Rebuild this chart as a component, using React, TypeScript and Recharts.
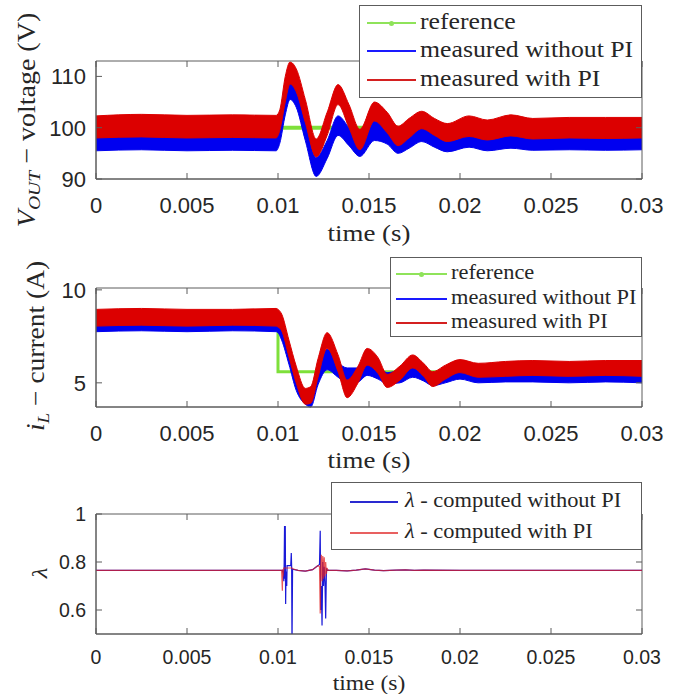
import React from 'react';
import { ComposedChart, Area, Line, XAxis, YAxis, ReferenceArea } from 'recharts';

const RED = '#dc0000';
const BLUE = '#0000f0';
const GREEN = '#7ee03a';
const AXIS = '#5c5c5c';
const INK = '#262626';
const SERIF = '"Liberation Serif", "Times New Roman", serif';
const SANS = '"Liberation Sans", Arial, sans-serif';
// the original uses Computer Modern, which is wider than Times
const WIDEN = 'scaleX(1.12)';

const xTicks = [0, 0.005, 0.01, 0.015, 0.02, 0.025, 0.03];
const xTickLabels = ['0', '0.005', '0.01', '0.015', '0.02', '0.025', '0.03'];

// output voltage: edges of the noisy bands
const vTime = [0, 0.0025, 0.005, 0.0075, 0.0099, 0.0101, 0.0104, 0.01066, 0.011, 0.0115, 0.0121, 0.0127, 0.0133, 0.0139, 0.0145, 0.0153, 0.016, 0.0166, 0.0172, 0.0179, 0.0186, 0.0193, 0.0205, 0.0215, 0.0228, 0.024, 0.026, 0.028, 0.03];
const vRef = [100, 100, 100, 100, 100, 100, 100, 100, 100, 100, 100, 100, 100, 100, 100, 100, 100, 100, 100, 100, 100, 100, 100, 100, 100, 100, 100, 100, 100];
const vNoPiLow = [95.5, 95.7, 95.5, 95.6, 95.5, 97, 102.5, 105.5, 104, 97.5, 90.5, 94, 98.5, 96.5, 94.4, 97.5, 96.8, 95, 96, 97.3, 96.2, 95.3, 96.2, 95.5, 96, 95.6, 95.7, 95.6, 95.7];
const vNoPiHigh = [99.3, 99.6, 99.4, 99.5, 99.4, 100.5, 107, 109, 108, 101.5, 94.2, 97.5, 102.3, 100, 97.7, 101.3, 100.2, 98.2, 99, 100, 99.2, 98.5, 99.5, 98.7, 99.3, 98.8, 99, 99, 99];
const vPiLow = [98, 98.2, 98, 98.1, 98, 99.5, 105, 108.5, 107, 101, 94.3, 98.5, 104.5, 100, 95.7, 101.3, 99, 96.5, 98, 99.8, 98.5, 97.3, 98.3, 97.6, 98.4, 97.8, 98, 97.9, 98];
const vPiHigh = [102.3, 102.6, 102.4, 102.5, 102.4, 103.5, 110, 112.8, 111.5, 105.5, 97.8, 103, 108.4, 104.5, 99.7, 105, 103, 100.3, 101.8, 103.2, 101.8, 100.8, 102.3, 101.5, 102.5, 101.8, 102, 102, 102];

// inductor current
const iTime = [0, 0.0025, 0.005, 0.0075, 0.0099, 0.01, 0.0102, 0.0106, 0.011, 0.0115, 0.0118, 0.0122, 0.0127, 0.0133, 0.0138, 0.0144, 0.0149, 0.0155, 0.016, 0.0167, 0.0174, 0.018, 0.0185, 0.0192, 0.02, 0.021, 0.0225, 0.024, 0.026, 0.028, 0.03];
const iRef = [8.5, 8.5, 8.5, 8.5, 8.5, 5.6, 5.6, 5.6, 5.6, 5.6, 5.6, 5.6, 5.6, 5.6, 5.6, 5.6, 5.6, 5.6, 5.6, 5.6, 5.6, 5.6, 5.6, 5.6, 5.6, 5.6, 5.6, 5.6, 5.6, 5.6, 5.6];
const iNoPiLow = [7.75, 7.8, 7.75, 7.8, 7.75, 7.7, 7.3, 6.0, 4.6, 3.85, 3.7, 4.9, 5.7, 5.3, 5.0, 5.05, 5.4, 5.2, 4.95, 5.0, 5.3, 5.1, 4.85, 5.0, 5.2, 5.0, 5.05, 5.05, 5.0, 5.05, 5.0];
const iNoPiHigh = [8.55, 8.6, 8.55, 8.6, 8.55, 8.5, 8.3, 7.0, 5.6, 4.6, 4.5, 5.8, 6.8, 6.1, 5.8, 5.8, 6.1, 5.9, 5.55, 5.7, 6.0, 5.8, 5.45, 5.7, 5.9, 5.75, 5.8, 5.85, 5.8, 5.8, 5.75];
const iPiLow = [8.05, 8.1, 8.05, 8.1, 8.05, 8.0, 7.8, 6.4, 5.0, 3.85, 3.9, 5.3, 6.85, 5.6, 4.2, 5.0, 5.95, 5.5, 4.75, 5.15, 5.8, 5.35, 4.8, 5.2, 5.55, 5.3, 5.35, 5.4, 5.35, 5.4, 5.35];
const iPiHigh = [8.95, 9.0, 8.95, 8.95, 9.0, 8.95, 8.7, 7.3, 5.9, 4.7, 4.8, 6.3, 7.7, 6.5, 5.15, 5.9, 6.85, 6.35, 5.45, 5.9, 6.5, 6.05, 5.6, 5.95, 6.25, 6.05, 6.15, 6.2, 6.15, 6.2, 6.2];

// computed lambda
const lTime = [0, 0.005, 0.01, 0.0102, 0.01024, 0.01026, 0.01028, 0.01032, 0.01034, 0.01036, 0.01038, 0.0104, 0.01042, 0.01044, 0.01048, 0.0105, 0.0107, 0.01073, 0.01075, 0.01077, 0.0108, 0.0111, 0.0115, 0.0119, 0.0122, 0.01228, 0.01232, 0.01235, 0.01238, 0.01242, 0.01246, 0.0125, 0.01254, 0.01258, 0.01262, 0.01266, 0.0127, 0.01275, 0.0128, 0.0132, 0.0138, 0.0143, 0.0148, 0.0153, 0.0158, 0.0165, 0.017, 0.0175, 0.018, 0.02, 0.025, 0.03];
const lNoPi = [0.765, 0.765, 0.765, 0.765, 0.765, 0.76, 0.765, 0.72, 0.8, 0.95, 0.73, 0.95, 0.625, 0.76, 0.7, 0.785, 0.785, 0.8375, 0.78, 0.45, 0.77, 0.765, 0.762, 0.768, 0.785, 0.79, 0.93, 0.6, 0.7, 0.535, 0.8, 0.7, 0.78, 0.72, 0.565, 0.77, 0.765, 0.766, 0.765, 0.765, 0.763, 0.766, 0.771, 0.766, 0.764, 0.766, 0.767, 0.765, 0.766, 0.765, 0.765, 0.765];
const lPi = [0.765, 0.765, 0.765, 0.765, 0.68, 0.77, 0.74, 0.775, 0.775, 0.775, 0.775, 0.775, 0.775, 0.775, 0.775, 0.775, 0.775, 0.775, 0.775, 0.775, 0.772, 0.765, 0.762, 0.768, 0.785, 0.78, 0.585, 0.79, 0.83, 0.72, 0.825, 0.73, 0.82, 0.74, 0.8, 0.75, 0.775, 0.765, 0.765, 0.765, 0.763, 0.766, 0.771, 0.766, 0.764, 0.766, 0.767, 0.765, 0.766, 0.765, 0.765, 0.765];

const vRows = vTime.map((t, i) => ({ t, ref: vRef[i], noLo: vNoPiLow[i], noHi: vNoPiHigh[i], piLo: vPiLow[i], piHi: vPiHigh[i] }));
const iRows = iTime.map((t, i) => ({ t, ref: iRef[i], noLo: iNoPiLow[i], noHi: iNoPiHigh[i], piLo: iPiLow[i], piHi: iPiHigh[i] }));
const lRows = lTime.map((t, i) => ({ t, noPi: lNoPi[i], pi: lPi[i] }));

const W = 691;

function xTick(top: number, size: number, dy: number) {
  return (p: any) => (
    <g>
      <line x1={p.x} x2={p.x} y1={p.y} y2={p.y - 6} stroke={AXIS} />
      <line x1={p.x} x2={p.x} y1={top} y2={top + 6} stroke={AXIS} />
      <text x={p.x} y={p.y + dy} textAnchor="middle" fontFamily={SANS} fontSize={size} fill={INK}>
        {xTickLabels[xTicks.indexOf(p.payload.value)]}
      </text>
    </g>
  );
}

function yTick(right: number, size: number, fmt: (v: number) => string) {
  return (p: any) => (
    <g>
      <line x1={p.x} x2={p.x + 6} y1={p.y} y2={p.y} stroke={AXIS} />
      <line x1={right} x2={right - 6} y1={p.y} y2={p.y} stroke={AXIS} />
      <text x={p.x - 10} y={p.y + size * 0.36} textAnchor="end" fontFamily={SANS} fontSize={size} fill={INK}>
        {fmt(p.payload.value)}
      </text>
    </g>
  );
}

function LegendBox({ left, top, width, height, fontSize, rows, sample, textLeft }: any) {
  return (
    <div style={{ position: 'absolute', left, top, width, height, boxSizing: 'border-box', border: `1px solid ${AXIS}`, background: '#fff', fontFamily: SERIF, fontSize, color: INK }}>
      {rows.map((r: any, i: number) => (
        <div key={i} style={{ position: 'absolute', left: 0, top: r.y, width: '100%' }}>
          <div style={{ position: 'absolute', left: sample[0], width: sample[1], top: -0.75, height: 1.5, background: r.color }} />
          {r.dot && <div style={{ position: 'absolute', left: sample[0] + sample[1] / 2 - 2.5, top: -2.5, width: 5, height: 5, borderRadius: 3, background: r.color }} />}
          <div style={{ position: 'absolute', left: textLeft, top: 0, transform: `translateY(-55%) ${WIDEN}`, transformOrigin: 'left center', whiteSpace: 'nowrap' }}>{r.label}</div>
        </div>
      ))}
    </div>
  );
}

const sub: React.CSSProperties = { fontSize: '0.7em', verticalAlign: '-0.3em', fontStyle: 'italic' };

function Title({ x, y, size, rotate, children }: any) {
  return (
    <div style={{ position: 'absolute', left: x, top: y, transform: `translate(-50%,-50%)${rotate ? ' rotate(-90deg)' : ''} ${WIDEN}`, fontFamily: SERIF, fontSize: size, color: INK, whiteSpace: 'nowrap', lineHeight: 1 }}>
      {children}
    </div>
  );
}

export default function App() {
  return (
    <div style={{ position: 'relative', width: W, height: 694, background: '#fff', overflow: 'hidden' }}>
      <style>{'body{margin:0}'}</style>

      {/* voltage */}
      <div style={{ position: 'absolute', left: 0, top: 0 }}>
        <ComposedChart width={W} height={240} data={vRows} margin={{ top: 61, right: 49, bottom: 21, left: 0 }}>
          <XAxis dataKey="t" type="number" domain={[0, 0.03]} ticks={xTicks} interval={0} height={40} tickSize={0} tickMargin={0} axisLine={{ stroke: AXIS }} tickLine={false} tick={xTick(61, 22, 34)} />
          <YAxis type="number" domain={[90, 113]} ticks={[90, 100, 110]} width={96} tickSize={0} tickMargin={0} axisLine={{ stroke: AXIS }} tickLine={false} tick={yTick(642, 22, (v) => String(v))} />
          <Line dataKey="ref" stroke={GREEN} strokeWidth={4} dot={false} isAnimationActive={false} zIndex={50} />
          <Area dataKey={(r: any) => [r.noLo, r.noHi]} stroke={BLUE} strokeWidth={1} fill={BLUE} fillOpacity={1} type="monotone" isAnimationActive={false} />
          <Area dataKey={(r: any) => [r.piLo, r.piHi]} stroke={RED} strokeWidth={1} fill={RED} fillOpacity={1} type="monotone" isAnimationActive={false} />
          <ReferenceArea x1={0} x2={0.03} y1={90} y2={113} fill="none" stroke={AXIS} />
        </ComposedChart>
      </div>

      {/* current */}
      <div style={{ position: 'absolute', left: 0, top: 240 }}>
        <ComposedChart width={W} height={230} data={iRows} margin={{ top: 48, right: 49, bottom: 23, left: 0 }}>
          <XAxis dataKey="t" type="number" domain={[0, 0.03]} ticks={xTicks} interval={0} height={40} tickSize={0} tickMargin={0} axisLine={{ stroke: AXIS }} tickLine={false} tick={xTick(48, 22, 34)} />
          <YAxis type="number" domain={[3.7, 10.1]} ticks={[5, 10]} width={96} tickSize={0} tickMargin={0} axisLine={{ stroke: AXIS }} tickLine={false} tick={yTick(642, 22, (v) => String(v))} />
          <Line dataKey="ref" type="stepAfter" stroke={GREEN} strokeWidth={3} dot={false} isAnimationActive={false} zIndex={50} />
          <Area dataKey={(r: any) => [r.noLo, r.noHi]} stroke={BLUE} strokeWidth={1} fill={BLUE} fillOpacity={1} type="monotone" isAnimationActive={false} />
          <Area dataKey={(r: any) => [r.piLo, r.piHi]} stroke={RED} strokeWidth={1} fill={RED} fillOpacity={1} type="monotone" isAnimationActive={false} />
          <ReferenceArea x1={0} x2={0.03} y1={3.7} y2={10.1} fill="none" stroke={AXIS} />
        </ComposedChart>
      </div>

      {/* lambda */}
      <div style={{ position: 'absolute', left: 0, top: 470 }}>
        <ComposedChart width={W} height={224} data={lRows} margin={{ top: 44, right: 49, bottom: 20, left: 0 }}>
          <XAxis dataKey="t" type="number" domain={[0, 0.03]} ticks={xTicks} interval={0} height={40} tickSize={0} tickMargin={0} axisLine={{ stroke: AXIS }} tickLine={false} tick={xTick(44, 19.5, 30)} />
          <YAxis type="number" domain={[0.5, 1]} allowDataOverflow ticks={[0.6, 0.8, 1]} width={96} tickSize={0} tickMargin={0} axisLine={{ stroke: AXIS }} tickLine={false} tick={yTick(642, 19.5, (v) => String(v))} />
          <Line dataKey="noPi" type="linear" stroke="#1a1ad8" strokeWidth={1.2} dot={false} isAnimationActive={false} />
          <Line dataKey="pi" type="linear" stroke="#e02020" strokeOpacity={0.75} strokeWidth={1.2} dot={false} isAnimationActive={false} />
          <ReferenceArea x1={0} x2={0.03} y1={0.5} y2={1} fill="none" stroke={AXIS} />
        </ComposedChart>
      </div>

      {/* axis titles */}
      <Title x={369} y={233} size={24}>time (s)</Title>
      <Title x={369} y={460} size={24}>time (s)</Title>
      <Title x={369} y={683} size={21}>time (s)</Title>

      <Title x={29} y={120} size={25} rotate>
        <i>V</i><span style={sub}>OUT</span> − voltage (V)
      </Title>
      <Title x={38} y={346} size={24.5} rotate>
        <i>i</i><span style={sub}>L</span> − current (A)
      </Title>
      <Title x={40} y={573} size={22} rotate>
        <i>λ</i>
      </Title>

      {/* legends */}
      <LegendBox left={359} top={5} width={283} height={93} fontSize={23} sample={[7, 49]} textLeft={60}
        rows={[
          { y: 17, color: '#8fe35a', dot: true, label: 'reference' },
          { y: 45, color: '#1a1aff', label: 'measured without PI' },
          { y: 74, color: '#d42020', label: 'measured with PI' },
        ]} />
      <LegendBox left={390} top={257} width={252} height={80} fontSize={20} sample={[5, 51]} textLeft={60}
        rows={[
          { y: 16, color: '#8fe35a', dot: true, label: 'reference' },
          { y: 41, color: '#1a1aff', label: 'measured without PI' },
          { y: 65, color: '#d42020', label: 'measured with PI' },
        ]} />
      <LegendBox left={331} top={482} width={311} height={68} fontSize={20} sample={[18, 48]} textLeft={73}
        rows={[
          { y: 19, color: '#2a2ad0', label: <span><i>λ</i> - computed without PI</span> },
          { y: 50, color: '#e86060', label: <span><i>λ</i> - computed with PI</span> },
        ]} />
    </div>
  );
}
